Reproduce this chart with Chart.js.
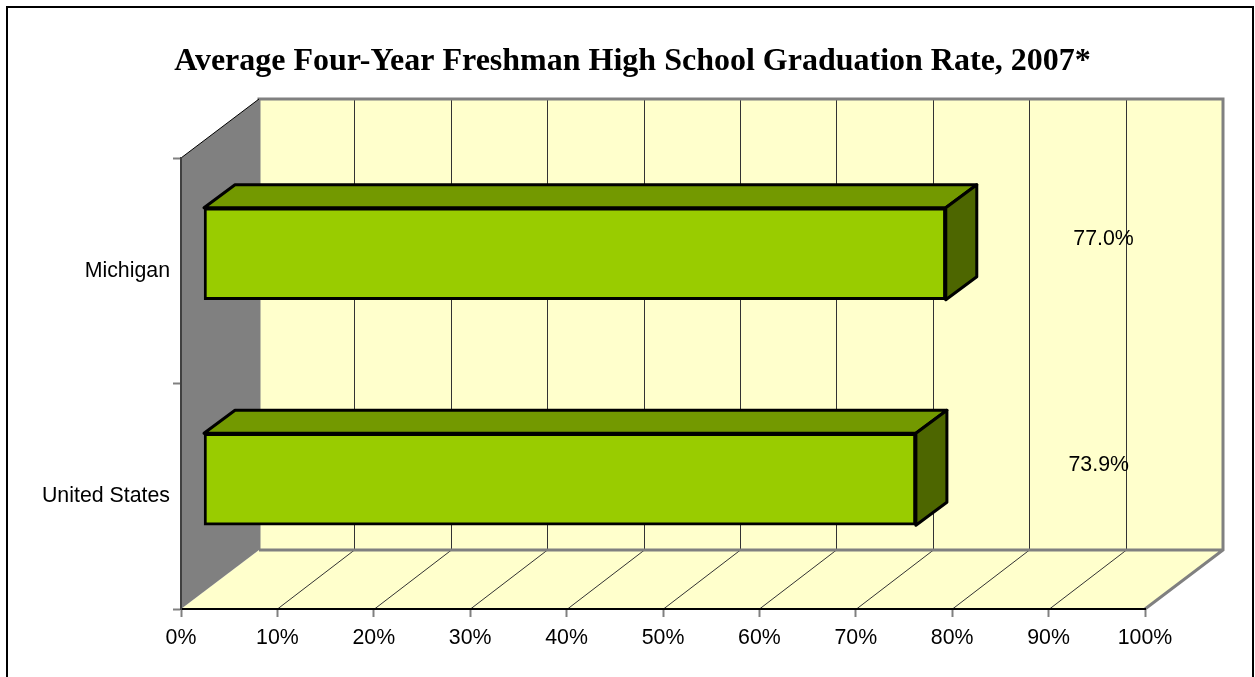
<!DOCTYPE html>
<html>
<head>
<meta charset="utf-8">
<title>Graduation rate</title>
<script src="https://cdn.jsdelivr.net/npm/chart.js@4"></script>
<style>
body { margin: 0; background: #fff; }
canvas { display: block; }
</style>
</head>
<body>
<canvas id="myChart" width="1255" height="677"></canvas>
<script>
const categories = ["Michigan", "United States"];
const gradRate = [77.0, 73.9];
const rateLabels = ["77.0%", "73.9%"];
const chartTitle = "Average Four-Year Freshman High School Graduation Rate, 2007*";

// 3D look, Excel style
const wallDepth = { x: 78, y: -59 };
const barOffset = { x: 22.5, y: -17 };
const barDepth = { x: 31, y: -23 };
const labelValueX = [95.7, 95.2];
const labelShiftY = -14.5;

function poly(ctx, pts, fill, stroke, width) {
    ctx.beginPath();
    ctx.moveTo(pts[0][0], pts[0][1]);
    for (let i = 1; i < pts.length; i++) ctx.lineTo(pts[i][0], pts[i][1]);
    ctx.closePath();
    if (fill) { ctx.fillStyle = fill; ctx.fill(); }
    if (stroke) { ctx.strokeStyle = stroke; ctx.lineWidth = width; ctx.stroke(); }
}

const box3d = {
    id: "box3d",
    afterLayout(chart) {
        // title is centred on the whole frame, not on the plot
        chart.titleBlock.left = 10;
        chart.titleBlock.right = 1255;
    },
    beforeDraw(chart) {
        const ctx = chart.ctx;
        const a = chart.chartArea;
        const x = chart.scales.x;
        const dx = wallDepth.x, dy = wallDepth.y;

        ctx.save();
        // frame, no bottom edge in the original
        ctx.strokeStyle = "#000";
        ctx.lineWidth = 2;
        ctx.beginPath();
        ctx.moveTo(7, chart.height);
        ctx.lineTo(7, 7);
        ctx.lineTo(1253, 7);
        ctx.lineTo(1253, chart.height);
        ctx.stroke();

        // back wall, floor, side wall
        const bl = a.left + dx, br = a.right + dx, bt = a.top + dy, bb = a.bottom + dy;
        poly(ctx, [[bl, bt], [br, bt], [br, bb], [bl, bb]], "#ffffcc", null);
        poly(ctx, [[a.left, a.bottom], [a.right, a.bottom], [br, bb], [bl, bb]], "#ffffcc", null);
        poly(ctx, [[a.left, a.top], [bl, bt], [bl, bb], [a.left, a.bottom]], "#808080", null);

        // gridlines on wall and floor
        ctx.strokeStyle = "#333";
        ctx.lineWidth = 1;
        for (let v = 10; v < 100; v += 10) {
            const px = Math.round(x.getPixelForValue(v)) + 0.5;
            ctx.beginPath();
            ctx.moveTo(px, a.bottom);
            ctx.lineTo(px + dx - 1, bb);
            ctx.lineTo(px + dx - 1, bt);
            ctx.stroke();
        }

        // wall edges
        ctx.strokeStyle = "#808080";
        ctx.lineWidth = 3;
        ctx.beginPath();
        ctx.moveTo(bl, bb);
        ctx.lineTo(bl, bt);
        ctx.lineTo(br, bt);
        ctx.lineTo(br, bb);
        ctx.lineTo(a.right, a.bottom);
        ctx.moveTo(bl, bb);
        ctx.lineTo(br, bb);
        ctx.stroke();
        ctx.strokeStyle = "#000";
        ctx.lineWidth = 1;
        ctx.beginPath();
        ctx.moveTo(a.left, a.top);
        ctx.lineTo(bl, bt);
        ctx.stroke();
        ctx.restore();
    },
    beforeDatasetsDraw(chart) {
        const ctx = chart.ctx;
        ctx.save();
        ctx.translate(barOffset.x, barOffset.y);
        const ddx = barDepth.x, ddy = barDepth.y;
        chart.getDatasetMeta(0).data.forEach(function (bar) {
            const p = bar.getProps(["x", "y", "base", "height"], true);
            const top = p.y - p.height / 2, bot = p.y + p.height / 2;
            ctx.lineJoin = "round";
            poly(ctx, [[p.base, top], [p.x, top], [p.x + ddx, top + ddy], [p.base + ddx, top + ddy]], "#739900", "#000", 3);
            poly(ctx, [[p.x, top], [p.x + ddx, top + ddy], [p.x + ddx, bot + ddy], [p.x, bot]], "#4d6600", "#000", 3);
        });
    },
    afterDatasetsDraw(chart) {
        const ctx = chart.ctx;
        ctx.restore();
        ctx.save();
        ctx.font = "21.33px 'Liberation Sans'";
        ctx.fillStyle = "#000";
        ctx.textAlign = "center";
        ctx.textBaseline = "middle";
        chart.getDatasetMeta(0).data.forEach(function (bar, i) {
            const p = bar.getProps(["y"], true);
            ctx.fillText(rateLabels[i], chart.scales.x.getPixelForValue(labelValueX[i]), p.y + barOffset.y + labelShiftY);
        });
        ctx.restore();
    }
};

new Chart(document.getElementById("myChart").getContext("2d"), {
    type: "bar",
    data: {
        labels: categories,
        datasets: [{
            data: gradRate,
            backgroundColor: "#99cc00",
            borderColor: "#000",
            borderWidth: 3,
            borderSkipped: false,
            barThickness: 92
        }]
    },
    options: {
        indexAxis: "y",
        responsive: false,
        animation: false,
        layout: { padding: { left: 10, right: 110, top: 0, bottom: 0 } },
        plugins: {
            legend: { display: false },
            tooltip: { enabled: false },
            title: {
                display: true,
                text: chartTitle,
                color: "#000",
                font: { family: "'Liberation Serif'", size: 32, weight: "bold", lineHeight: 1.2 },
                padding: { top: 43, bottom: 76.6 }
            }
        },
        scales: {
            x: {
                min: 0,
                max: 100,
                afterFit(scale) { scale.height = 68; },
                ticks: {
                    stepSize: 10,
                    maxRotation: 0,
                    color: "#000",
                    padding: 8,
                    font: { family: "'Liberation Sans'", size: 21.33 },
                    callback: function (v) { return v + "%"; }
                },
                grid: { drawOnChartArea: false, drawTicks: true, tickLength: 8, tickWidth: 2, color: "#808080" },
                border: { display: true, color: "#000", width: 2 }
            },
            y: {
                afterFit(scale) { scale.width = 171; },
                ticks: {
                    color: "#000",
                    padding: 3,
                    font: { family: "'Liberation Sans'", size: 21.33 }
                },
                grid: { offset: true, drawOnChartArea: false, drawTicks: true, tickLength: 8, tickWidth: 2, color: "#808080" },
                border: { display: true, color: "#404040", width: 2 }
            }
        }
    },
    plugins: [box3d]
});
</script>
</body>
</html>
